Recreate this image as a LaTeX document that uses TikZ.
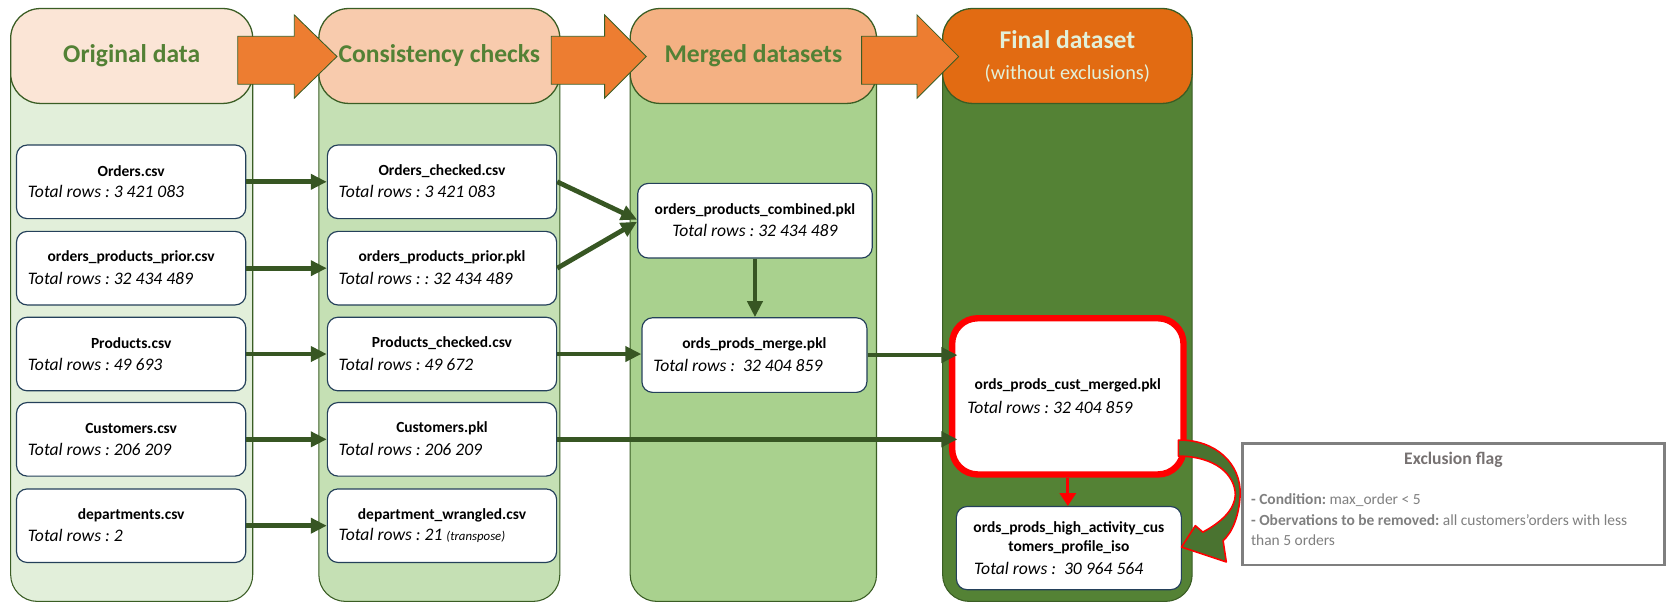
\documentclass[tikz,border=0pt]{standalone}
\usepackage{fontspec}
\setmainfont{Carlito}
\usetikzlibrary{arrows.meta}
\frenchspacing

\definecolor{peachA}{HTML}{FBE5D6}
\definecolor{peachB}{HTML}{F8CBAD}
\definecolor{peachC}{HTML}{F4B183}
\definecolor{orangeD}{HTML}{E26B12}
\definecolor{bodyA}{HTML}{E2EFDA}
\definecolor{bodyB}{HTML}{C5E0B4}
\definecolor{bodyC}{HTML}{A9D18E}
\definecolor{bodyD}{HTML}{548235}
\definecolor{edgegreen}{HTML}{3A5D24}
\definecolor{titlegreen}{HTML}{538135}
\definecolor{arroworange}{HTML}{ED7D31}
\definecolor{lighttext}{HTML}{E2F0D9}
\definecolor{flowgreen}{HTML}{375623}
\definecolor{boxedge}{HTML}{24405A}
\definecolor{flaggray}{HTML}{7F7F7F}
\definecolor{flagtitle}{HTML}{767171}
\definecolor{curvegreen}{HTML}{4A7330}

\begin{document}
\begin{tikzpicture}[x=1pt,y=-1pt,
    colbody/.style={draw=edgegreen, line width=1pt, rounded corners=25pt},
    header/.style={draw=edgegreen, line width=1.2pt, rounded corners=28pt,
      minimum height=89pt, inner sep=0pt, text=titlegreen,
      font=\fontsize{24}{29}\selectfont\bfseries},
    bigarrow/.style={fill=arroworange, draw=edgegreen, line width=0.8pt},
    databox/.style={draw=boxedge, fill=white, line width=1.1pt,
      rounded corners=10pt, inner sep=0pt, minimum height=69pt},
    boxtitle/.style={font=\fontsize{14.5}{17.5}\selectfont\bfseries,
      inner sep=0pt, align=center},
    boxrows/.style={font=\fontsize{16.5}{19}\selectfont\itshape,
      inner sep=0pt, anchor=west},
    flow/.style={draw=flowgreen, line width=4.5pt,
      -{Triangle[length=15pt,width=14pt]}},
    flagline/.style={font=\fontsize{14.5}{17}\selectfont, text=flaggray,
      inner sep=0pt, anchor=west}]
    \useasboundingbox (0,0) rectangle (1568,569.3);

    % column bodies
    \filldraw[colbody, fill=bodyA] (10,50) -- (10,564) -- (237,564) -- (237,50);
    \filldraw[colbody, fill=bodyB] (299,50) -- (299,564) -- (525,564) -- (525,50);
    \filldraw[colbody, fill=bodyC] (591,50) -- (591,564) -- (822,564) -- (822,50);
    \filldraw[colbody, fill=bodyD] (884,50) -- (884,564) -- (1118,564) -- (1118,50);

    % headers
    \node[header, fill=peachA, minimum width=227pt] (hOrig) at (123.5,52.5) {Original data};
    \node[header, fill=peachB, minimum width=226pt] (hCheck) at (412,52.5) {Consistency checks};
    \node[header, fill=peachC, minimum width=231pt] (hMerge) at (706.5,52.5) {Merged datasets};
    \node[header, fill=orangeD, minimum width=234pt, text=lighttext, align=center]
      (hFinal) at (1001,52.5) {Final dataset\\{\fontsize{19}{23}\selectfont\mdseries (without exclusions)}};

    % big arrows between headers
    \filldraw[bigarrow] (223,34) -- (276,34) -- (276,14) -- (316,53) -- (276,92) -- (276,79) -- (223,79) -- cycle;
    \filldraw[bigarrow] (517,34) -- (567,34) -- (567,14) -- (606,53) -- (567,92) -- (567,79) -- (517,79) -- cycle;
    \filldraw[bigarrow] (808,34) -- (860,34) -- (860,14) -- (899,53) -- (860,92) -- (860,79) -- (808,79) -- cycle;

    % original data
    \node[databox, minimum width=215pt] (orders) at (123,170.5) {};
    \node[databox, minimum width=215pt] (prior) at (123,251.5) {};
    \node[databox, minimum width=215pt] (products) at (123,332) {};
    \node[databox, minimum width=215pt] (customers) at (123,412) {};
    \node[databox, minimum width=215pt] (departments) at (123,493) {};
    \node[boxtitle] at ([yshift=10pt]orders.center) {Orders.csv};
    \node[boxrows] at ([xshift=11pt,yshift=-9.5pt]orders.west) {Total rows : 3 421 083};
    \node[boxtitle] at ([yshift=10pt]prior.center) {orders\_products\_prior.csv};
    \node[boxrows] at ([xshift=11pt,yshift=-9.5pt]prior.west) {Total rows : 32 434 489};
    \node[boxtitle] at ([yshift=10pt]products.center) {Products.csv};
    \node[boxrows] at ([xshift=11pt,yshift=-9.5pt]products.west) {Total rows : 49 693};
    \node[boxtitle] at ([yshift=10pt]customers.center) {Customers.csv};
    \node[boxrows] at ([xshift=11pt,yshift=-9.5pt]customers.west) {Total rows : 206 209};
    \node[boxtitle] at ([yshift=10pt]departments.center) {departments.csv};
    \node[boxrows] at ([xshift=11pt,yshift=-9.5pt]departments.west) {Total rows : 2};

    % consistency checks
    \node[databox, minimum width=215pt] (ordersChk) at (414.5,170.5) {};
    \node[databox, minimum width=215pt] (priorPkl) at (414.5,251.5) {};
    \node[databox, minimum width=215pt] (productsChk) at (414.5,332) {};
    \node[databox, minimum width=215pt] (customersPkl) at (414.5,412) {};
    \node[databox, minimum width=215pt] (deptWr) at (414.5,493) {};
    \node[boxtitle] at ([yshift=10pt]ordersChk.center) {Orders\_checked.csv};
    \node[boxrows] at ([xshift=11pt,yshift=-9.5pt]ordersChk.west) {Total rows : 3 421 083};
    \node[boxtitle] at ([yshift=10pt]priorPkl.center) {orders\_products\_prior.pkl};
    \node[boxrows] at ([xshift=11pt,yshift=-9.5pt]priorPkl.west) {Total rows : : 32 434 489};
    \node[boxtitle] at ([yshift=10pt]productsChk.center) {Products\_checked.csv};
    \node[boxrows] at ([xshift=11pt,yshift=-9.5pt]productsChk.west) {Total rows : 49 672};
    \node[boxtitle] at ([yshift=10pt]customersPkl.center) {Customers.pkl};
    \node[boxrows] at ([xshift=11pt,yshift=-9.5pt]customersPkl.west) {Total rows : 206 209};
    \node[boxtitle] at ([yshift=10pt]deptWr.center) {department\_wrangled.csv};
    \node[boxrows] at ([xshift=11pt,yshift=-9.5pt]deptWr.west)
      {Total rows : 21 {\fontsize{12}{14}\selectfont(transpose)}};

    % merged datasets
    \node[databox, minimum width=220pt, minimum height=70pt] (combined) at (708,207) {};
    \node[databox, minimum width=211pt, minimum height=70pt] (merge) at (707.5,333) {};
    \node[boxtitle] at ([yshift=10pt]combined.center) {orders\_products\_combined.pkl};
    \node[boxrows, anchor=center] at ([yshift=-9.5pt]combined.center) {Total rows : 32 434 489};
    \node[boxtitle] at ([yshift=10pt]merge.center) {ords\_prods\_merge.pkl};
    \node[boxrows] at ([xshift=11pt,yshift=-9.5pt]merge.west) {Total rows :\ \ 32 404 859};

    % final dataset
    \node[databox, draw=red, line width=6pt, rounded corners=24pt,
      minimum width=217pt, minimum height=146.5pt] (custMerged) at (1001.4,371.7) {};
    \node[databox, minimum width=211pt, minimum height=78pt] (highAct) at (1002.4,514) {};
    \node[boxtitle] at ([yshift=10pt]custMerged.center) {ords\_prods\_cust\_merged.pkl};
    \node[boxrows] at ([xshift=17pt,yshift=-10pt]custMerged.west) {Total rows : 32 404 859};
    \node[boxtitle] at ([yshift=9.5pt]highAct.center) {ords\_prods\_high\_activity\_cus\\tomers\_profile\_iso};
    \node[boxrows] at ([xshift=17pt,yshift=-19pt]highAct.west) {Total rows :\ \ 30 964 564};

    % connectors
    \draw[flow] (orders.east) -- (ordersChk.west);
    \draw[flow] (prior.east) -- (priorPkl.west);
    \draw[flow] (products.east) -- (productsChk.west);
    \draw[flow] (customers.east) -- (customersPkl.west);
    \draw[flow] (departments.east) -- (deptWr.west);
    \draw[flow] (ordersChk.east) -- ([yshift=1pt]combined.west);
    \draw[flow] (priorPkl.east) -- ([yshift=-1pt]combined.west);
    \draw[flow] (combined.south) -- (combined.south |- merge.north);
    \draw[flow] (productsChk.east) -- (productsChk.east -| merge.west);
    \draw[flow] (merge.east) -- ([xshift=8pt]merge.east -| custMerged.west);
    \draw[flow] (customersPkl.east) -- ([xshift=8pt]customersPkl.east -| custMerged.west);
    \draw[red, line width=3pt, -{Triangle[length=12pt,width=15pt]}]
      (custMerged.south) -- (custMerged.south |- highAct.north);

    % curved exclusion arrow
    \filldraw[fill=curvegreen, draw=red, line width=1.5pt, line join=round]
      (1105,412.7) .. controls (1140,412) and (1164,435) .. (1163,464)
      .. controls (1162,485) and (1155,500) .. (1147,507)
      -- (1150,527) -- (1108,513) -- (1121,493) -- (1128,499)
      .. controls (1145,490) and (1158,478) .. (1158.5,464)
      .. controls (1158,445) and (1140,428) .. (1105,427.7) -- cycle;

    % exclusion flag
    \node[draw=flaggray, line width=2.5pt, minimum width=396pt, minimum height=114pt,
      inner sep=0pt] (exclusion) at (1363,473) {};
    \node[font=\fontsize{16.5}{20}\selectfont\bfseries, text=flagtitle, inner sep=0pt]
      at (1363,431.5) {Exclusion flag};
    \node[flagline] at (1173,469) {\textbf{- Condition:} max\_order < 5};
    \node[flagline] at (1173,488) {\textbf{- Obervations to be removed:} all customers'orders with less};
    \node[flagline] at (1173,506.5) {than 5 orders};

\end{tikzpicture}
\end{document}
